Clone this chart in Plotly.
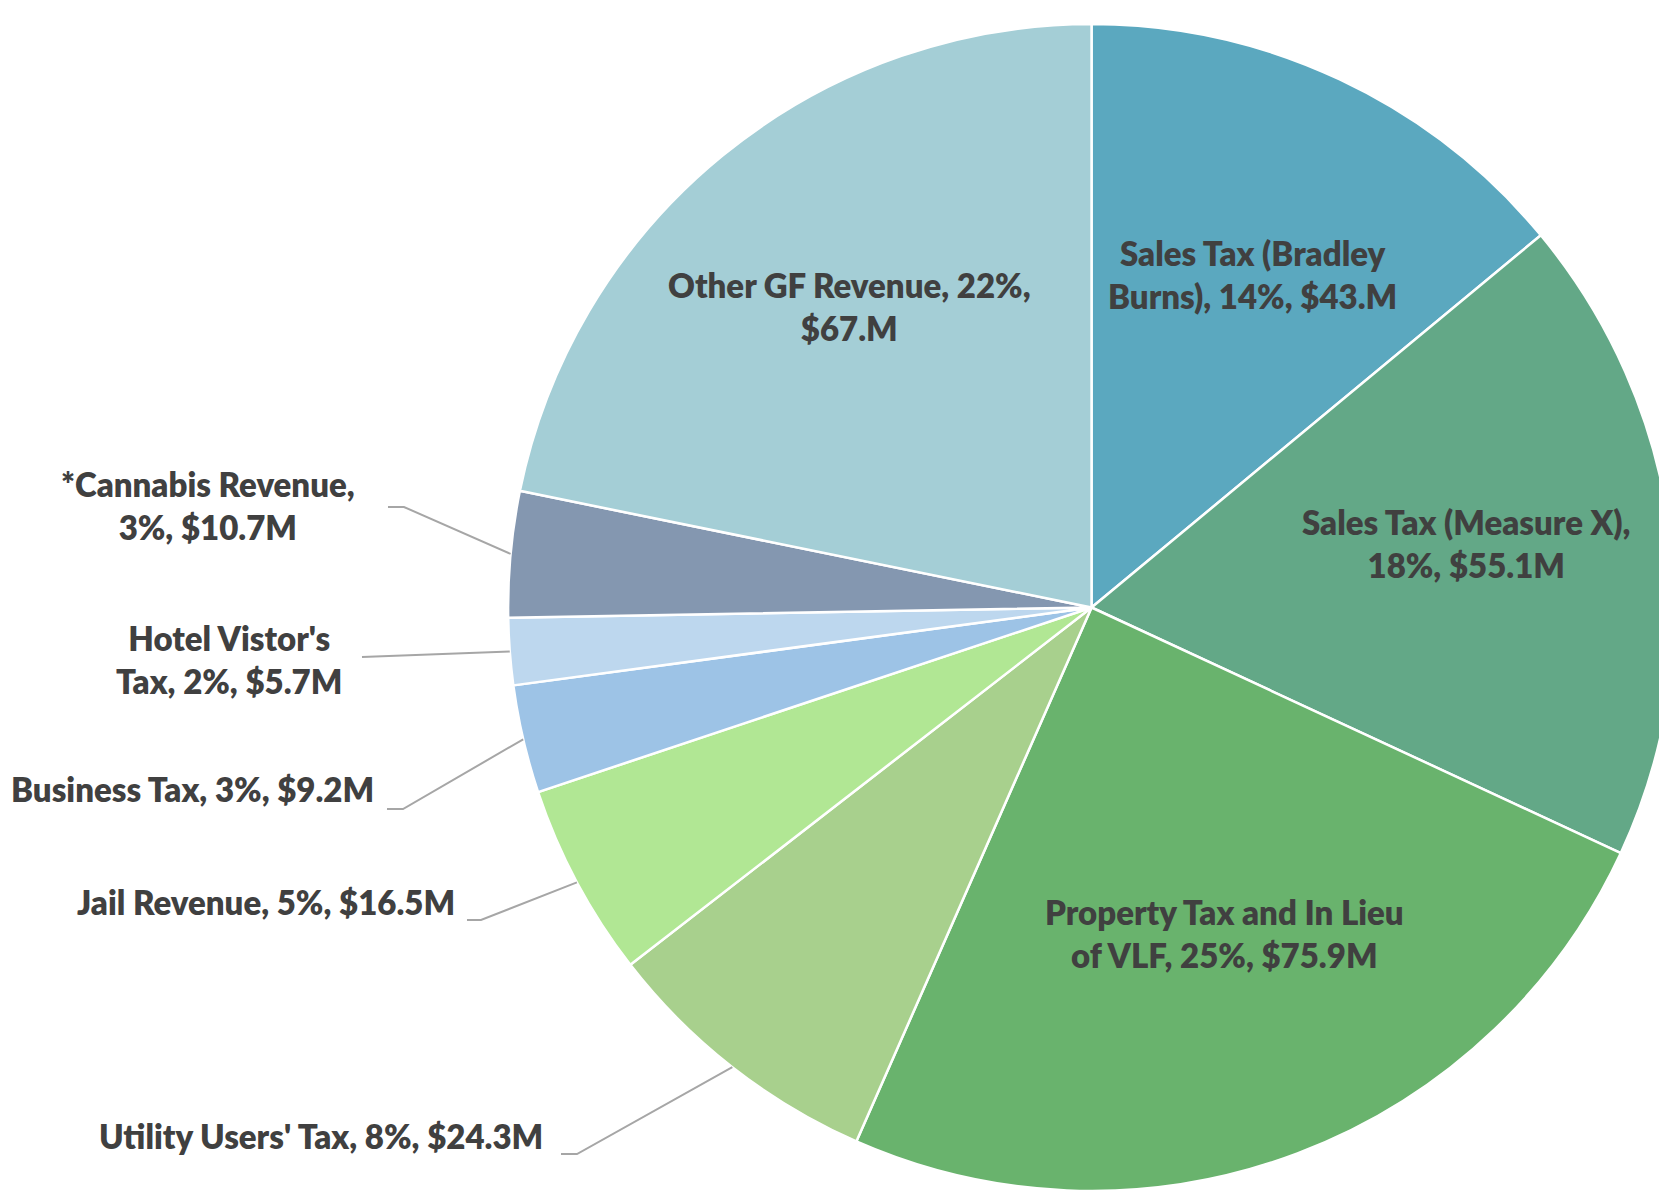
import math
import plotly.graph_objects as go

# ---------------- data ----------------
categories = ["Sales Tax (Bradley Burns)", "Sales Tax (Measure X)",
              "Property Tax and In Lieu of VLF", "Utility Users' Tax",
              "Jail Revenue", "Business Tax", "Hotel Vistor's",
              "*Cannabis Revenue", "Other GF Revenue"]
hotel_suffix = "Tax"  # Hotel label continues as "Tax, 2%, ..."
values = [43.0, 55.1, 75.9, 24.3, 16.5, 9.2, 5.7, 10.7, 67.0]
amount_labels = ["$43.M", "$55.1M", "$75.9M", "$24.3M", "$16.5M",
                 "$9.2M", "$5.7M", "$10.7M", "$67.M"]
colors = ["#5BA8BF", "#63A887", "#69B36D", "#A8D08D", "#B1E794",
          "#9DC3E6", "#BDD7EE", "#8497B0", "#A4CED6"]

# ---------------- layout helpers ----------------
W, H = 1667, 1199
DOM_X = [0.30, 1.0]
DOM_Y = [0.0, 1.0]
cx = (DOM_X[0] + DOM_X[1]) / 2 * W
cy = H - (DOM_Y[0] + DOM_Y[1]) / 2 * H
R = min((DOM_X[1] - DOM_X[0]) * W, (DOM_Y[1] - DOM_Y[0]) * H) / 2

FONT = dict(family="Lato, 'Open Sans', sans-serif", size=33, color="#404040", weight=800)
LINE_COLOR = "#A6A6A6"
TEXT_YSHIFT = 9

total = sum(values)
full_texts = []
for i, (c, v, a) in enumerate(zip(categories, values, amount_labels)):
    pct = round(v / total * 100)
    if i == 6:
        full_texts.append(f"{c}<br>{hotel_suffix}, {pct}%, {a}")
    else:
        full_texts.append(f"{c}, {pct}%, {a}")

wrap_after = ["Sales Tax (Bradley", "Sales Tax (Measure X),", "Property Tax and In Lieu",
              None, None, None, None, "*Cannabis Revenue,", "Other GF Revenue, 22%,"]
texts = []
for t, w in zip(full_texts, wrap_after):
    if w:
        t = t.replace(w + " ", w + "<br>", 1)
    texts.append(t)

# mid angles (clockwise from 12 o'clock)
mid_angles = []
cum = 0.0
for v in values:
    mid_angles.append((cum + v / 2) / total * 2 * math.pi)
    cum += v


def px_at(angle, rad):
    return cx + rad * math.sin(angle), cy - rad * math.cos(angle)


def to_paper(x, y):
    return x / W, 1 - y / H


fig = go.Figure(go.Pie(
    labels=full_texts, values=values, sort=False, direction="clockwise",
    rotation=0, marker=dict(colors=colors, line=dict(color="white", width=2.5)),
    textinfo="none", hoverinfo="label", domain=dict(x=DOM_X, y=DOM_Y),
    showlegend=False,
))

annotations = []
shapes = []

# inside labels: placed along mid angle (radius fraction, angle nudge in degrees)
inside = {0: (0.62, 1.3), 1: (0.65, -1.0), 2: (0.617, -1.0), 8: (0.65, -0.5)}
for i, (rf, nudge) in inside.items():
    x, y = px_at(mid_angles[i] + math.radians(nudge), rf * R)
    px_, py_ = to_paper(x, y)
    annotations.append(dict(x=px_, y=py_, xref="paper", yref="paper", text=texts[i],
                            showarrow=False, font=FONT, align="center",
                            xanchor="center", yanchor="middle", yshift=TEXT_YSHIFT))

# outside labels: (text x, text y, xanchor, elbow points)
outside = {
    7: (200, 506, "center", [(380, 499), (396, 499)]),
    6: (221, 660, "center", [(354, 649)]),
    5: (368, 790, "right", [(379, 801), (395, 801)]),
    4: (449, 903, "right", [(459, 912), (473, 912)]),
    3: (537, 1137, "right", [(553, 1146), (569, 1146)]),
}
for i, (tx, ty, xa, pts) in outside.items():
    px_, py_ = to_paper(tx, ty)
    annotations.append(dict(x=px_, y=py_, xref="paper", yref="paper", text=texts[i],
                            showarrow=False, font=FONT, align="center",
                            xanchor=xa, yanchor="middle", yshift=TEXT_YSHIFT))
    ax, ay = px_at(mid_angles[i], R)
    allpts = pts + [(ax, ay)]
    path = "M " + " L ".join(f"{to_paper(x, y)[0]:.5f},{to_paper(x, y)[1]:.5f}" for x, y in allpts)
    shapes.append(dict(type="path", path=path, xref="paper", yref="paper",
                       line=dict(color=LINE_COLOR, width=2)))

fig.update_layout(
    width=W, height=H, margin=dict(l=0, r=0, t=0, b=0),
    paper_bgcolor="white", plot_bgcolor="white",
    annotations=annotations, shapes=shapes,
)

fig.write_html("out.html")
